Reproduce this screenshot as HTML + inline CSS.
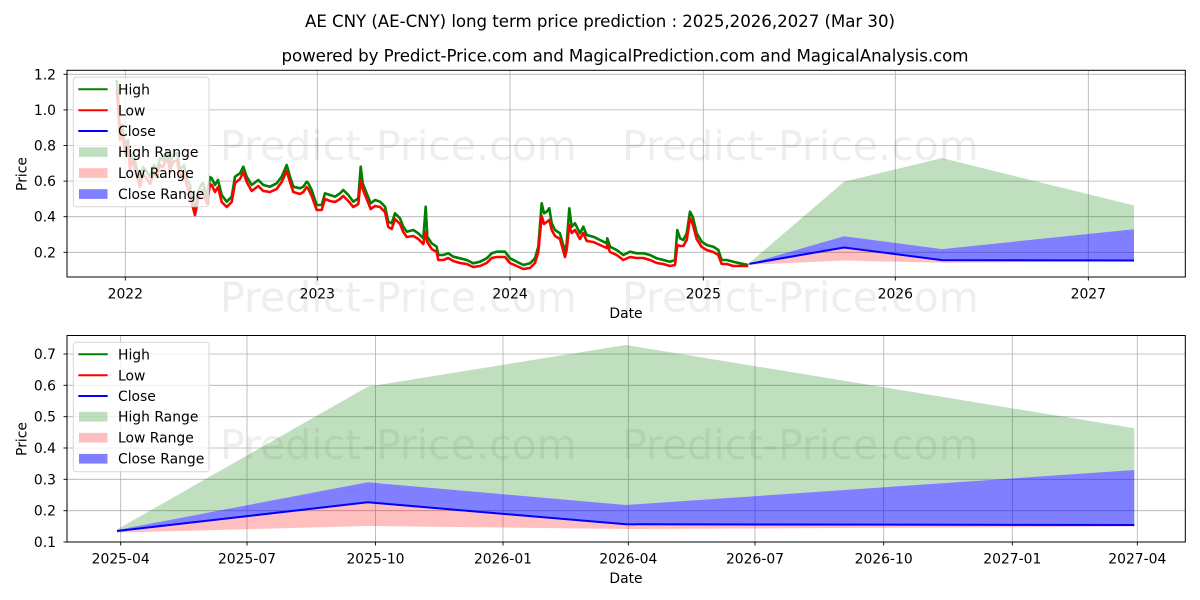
<!DOCTYPE html>
<html><head><meta charset="utf-8"><style>
html,body{margin:0;padding:0;background:#fff;}
svg{display:block;font-family:"DejaVu Sans","Liberation Sans",sans-serif;}
</style></head><body>
<svg width="1200" height="600" viewBox="0 0 1200 600" xmlns="http://www.w3.org/2000/svg">
<rect width="1200" height="600" fill="#fff"/>
<!-- Titles -->
<text x="600" y="27" font-size="16.67" text-anchor="middle" fill="#000" textLength="590" lengthAdjust="spacing">AE CNY (AE-CNY) long term price prediction : 2025,2026,2027 (Mar 30)</text>
<text x="625" y="61.5" font-size="16.67" text-anchor="middle" fill="#000" textLength="687" lengthAdjust="spacing">powered by Predict-Price.com and MagicalPrediction.com and MagicalAnalysis.com</text>

<!-- ============ TOP AXES ============ -->
<g stroke="#b0b0b0" stroke-width="0.8">
<line x1="125.3" y1="70" x2="125.3" y2="277"/>
<line x1="317.3" y1="70" x2="317.3" y2="277"/>
<line x1="510" y1="70" x2="510" y2="277"/>
<line x1="703.3" y1="70" x2="703.3" y2="277"/>
<line x1="895.3" y1="70" x2="895.3" y2="277"/>
<line x1="1088.3" y1="70" x2="1088.3" y2="277"/>
<line x1="67" y1="252.3" x2="1185" y2="252.3"/>
<line x1="67" y1="216.7" x2="1185" y2="216.7"/>
<line x1="67" y1="181.1" x2="1185" y2="181.1"/>
<line x1="67" y1="145.5" x2="1185" y2="145.5"/>
<line x1="67" y1="109.9" x2="1185" y2="109.9"/>
<line x1="67" y1="74.3" x2="1185" y2="74.3"/>
</g>

<!-- prediction fills top -->
<polygon fill="#008000" fill-opacity="0.25" points="749.3,263 844,181.8 942,158.1 1134,205.5 1134,229.2 942,249.1 844,236.3 749.3,263.5"/>
<polygon fill="#0000ff" fill-opacity="0.5" points="749.3,263.5 844,236.3 942,249.1 1134,229.2 1134,260.5 942,260.1 844,247.5 749.3,264"/>
<polygon fill="#ff0000" fill-opacity="0.25" points="749.3,264 844,247.5 942,260.1 1134,260.5 1134,261.2 942,262.8 844,260.5 749.3,264.8"/>

<!-- historical high -->
<polyline fill="none" stroke="#008000" stroke-width="2.6" stroke-linejoin="round" points="116.7,80 118,95 120,133 122,125 125,147 128,140 130,163 133,153 137,170 140,180 143,167 147,172 150,177 154,165 157,170 160,158 163,160 167,150 170,163 173,155 177,153 180,170 184,165 187,180 190,185 192,197 195,208 198,193 201,185 203,183 205,190 207,197 210,177 211.7,178.3 215,185 218,180 221.7,195 226.7,201.7 231.7,196.7 235,176.7 240,173.3 243.3,166.7 246.7,176.7 251.7,185 258.3,180 263.3,185 270,186.7 276.7,183.3 281.7,176.7 286.7,165 290,176.7 293.3,186.7 300,188.3 303.3,186.7 306.7,181.7 308.3,183.3 311.7,190 316.7,205 321.7,205 325,193.3 330,195 335,196.7 340,193.3 343.3,190 348.3,195 353.3,201.7 358.3,198.3 360.7,166.7 362.7,183.3 366.7,193.3 370.7,203.3 375,200 380,201.7 385,206.7 388.3,221.7 391.7,223.3 395,213.3 400,218.3 403.3,226.7 406.7,231.7 413.3,230 418.3,233.3 423.3,238.3 425.7,206.7 427.3,236.7 431.7,243.3 436.7,246.7 438.3,255 443.3,255 448.3,253.3 453.3,256.7 460,258.3 466.7,260 473.3,263.3 480,261.7 486.7,258.3 491.7,253.3 496.7,251.7 500,251.7 505,251.7 510,258.3 516.7,261.7 523.3,265 530,263.3 535,258.3 538.3,246.7 541.7,203.3 544,213.3 546.7,211.7 549.3,208.3 551.7,223.3 555,230 560,233.3 565,251.7 566.7,243.3 569.3,208.3 571.7,226.7 575,223.3 580,233.3 583.3,226.7 586.7,235 593.3,236.7 600,240 606.7,243.3 607.3,238.3 610,246.7 616.7,250 623.3,255 630,251.7 636.7,253.3 643.3,253.3 650,255 656.7,258.3 663.3,260 670,261.7 675,260 677.3,230 680,238.3 683.3,240 686.7,233.3 690,211.7 692.7,216.7 696.7,233.3 701.7,241.7 706.7,245 713.3,246.7 718.3,250 721.7,260 726.7,260 733.3,261.7 740,263.3 748.3,265"/>
<!-- historical low -->
<polyline fill="none" stroke="#ff0000" stroke-width="2.6" stroke-linejoin="round" points="116.7,90 118,105 120,140 122,132 125,153 128,147 130,170 133,160 137,177 140,187 143,174 147,179 150,184 154,172 157,177 160,165 163,167 167,157 170,170 173,162 177,160 180,177 184,172 187,187 190,192 192,204 195,215 198,200 201,192 203,190 205,197 207,204 210,184 211.7,185 215,192 218,187 221.7,202 226.7,207 231.7,202 235,183 240,179 243.3,172 246.7,182 251.7,191 258.3,186 263.3,191 270,192 276.7,189 281.7,182 286.7,171 290,182 293.3,192 300,194 303.3,192 306.7,187 308.3,189 311.7,196 316.7,210 321.7,210 325,199 330,201 335,202 340,199 343.3,196 348.3,201 353.3,207 358.3,204 360.7,180 362.7,189 366.7,199 370.7,209 375,206 380,207 385,212 388.3,227 391.7,229 395,219 400,224 403.3,232 406.7,237 413.3,236 418.3,239 423.3,244 425.7,232 427.3,242 431.7,249 436.7,252 438.3,260 443.3,260 448.3,258 453.3,261 460,263 466.7,264 473.3,267 480,266 486.7,263 491.7,258 496.7,257 500,257 505,257 510,263 516.7,266 523.3,269 530,268 535,263 538.3,252 541.7,216 544,224 546.7,222 549.3,220 551.7,230 555,236 560,239 565,257 566.7,250 569.3,225 571.7,233 575,230 580,239 583.3,233 586.7,241 593.3,242 600,245 606.7,248 607.3,245 610,252 616.7,255 623.3,260 630,257 636.7,258 643.3,258 650,260 656.7,263 663.3,264 670,266 675,265 677.3,245 680,246 683.3,246 686.7,240 690,218 692.7,224 696.7,239 701.7,247 706.7,250 713.3,252 718.3,255 721.7,264 726.7,264 733.3,266 740,266 748.3,266"/>
<!-- close prediction top -->
<polyline fill="none" stroke="#0000ff" stroke-width="2" points="749.3,263.9 844,247.5 942,260.1 1134,260.5"/>

<!-- watermarks -->
<g font-size="41" fill="#000" fill-opacity="0.065">
<text x="220" y="160">Predict-Price.com</text>
<text x="622" y="160">Predict-Price.com</text>
<text x="220" y="311.5">Predict-Price.com</text>
<text x="622" y="311.5">Predict-Price.com</text>
<text x="220" y="459">Predict-Price.com</text>
<text x="622" y="459">Predict-Price.com</text>
</g>

<!-- top spines & ticks -->
<rect x="67" y="70.3" width="1118.3" height="206.7" fill="none" stroke="#000" stroke-width="1"/>
<g stroke="#000" stroke-width="0.9">
<line x1="63.5" y1="252.3" x2="67" y2="252.3"/>
<line x1="63.5" y1="216.7" x2="67" y2="216.7"/>
<line x1="63.5" y1="181.1" x2="67" y2="181.1"/>
<line x1="63.5" y1="145.5" x2="67" y2="145.5"/>
<line x1="63.5" y1="109.9" x2="67" y2="109.9"/>
<line x1="63.5" y1="74.3" x2="67" y2="74.3"/>
<line x1="125.3" y1="277" x2="125.3" y2="280.5"/>
<line x1="317.3" y1="277" x2="317.3" y2="280.5"/>
<line x1="510" y1="277" x2="510" y2="280.5"/>
<line x1="703.3" y1="277" x2="703.3" y2="280.5"/>
<line x1="895.3" y1="277" x2="895.3" y2="280.5"/>
<line x1="1088.3" y1="277" x2="1088.3" y2="280.5"/>
</g>
<g font-size="13.9" fill="#000" text-anchor="end">
<text x="56" y="257.3">0.2</text>
<text x="56" y="221.7">0.4</text>
<text x="56" y="186.1">0.6</text>
<text x="56" y="150.5">0.8</text>
<text x="56" y="114.9">1.0</text>
<text x="56" y="79.3">1.2</text>
</g>
<g font-size="13.9" fill="#000" text-anchor="middle">
<text x="125.3" y="298.3">2022</text>
<text x="317.3" y="298.3">2023</text>
<text x="510" y="298.3">2024</text>
<text x="703.3" y="298.3">2025</text>
<text x="895.3" y="298.3">2026</text>
<text x="1088.3" y="298.3">2027</text>
<text x="626" y="318">Date</text>
</g>
<text font-size="13.9" text-anchor="middle" transform="translate(26.5,174) rotate(-90)">Price</text>

<!-- top legend -->
<rect x="73.3" y="77.3" width="135.7" height="129.4" rx="3" fill="#fff" fill-opacity="0.8" stroke="#cccccc" stroke-opacity="0.8" stroke-width="1"/>
<line x1="78.3" y1="89.3" x2="107.7" y2="89.3" stroke="#008000" stroke-width="2"/>
<line x1="78.3" y1="110.3" x2="107.7" y2="110.3" stroke="#ff0000" stroke-width="2"/>
<line x1="78.3" y1="131" x2="107.7" y2="131" stroke="#0000ff" stroke-width="2"/>
<rect x="79" y="147.2" width="28.5" height="9.7" fill="#008000" fill-opacity="0.25"/>
<rect x="79" y="168.2" width="28.5" height="9.7" fill="#ff0000" fill-opacity="0.25"/>
<rect x="79" y="189.2" width="28.5" height="9.7" fill="#0000ff" fill-opacity="0.5"/>
<g font-size="13.9" fill="#000">
<text x="118" y="94.3">High</text>
<text x="118" y="115.3">Low</text>
<text x="118" y="136">Close</text>
<text x="118" y="157">High Range</text>
<text x="118" y="178">Low Range</text>
<text x="118" y="199">Close Range</text>
</g>

<!-- ============ BOTTOM AXES ============ -->
<g stroke="#b0b0b0" stroke-width="0.8">
<line x1="120.7" y1="335.5" x2="120.7" y2="542"/>
<line x1="247" y1="335.5" x2="247" y2="542"/>
<line x1="375.5" y1="335.5" x2="375.5" y2="542"/>
<line x1="503" y1="335.5" x2="503" y2="542"/>
<line x1="628.3" y1="335.5" x2="628.3" y2="542"/>
<line x1="755" y1="335.5" x2="755" y2="542"/>
<line x1="883.7" y1="335.5" x2="883.7" y2="542"/>
<line x1="1012.3" y1="335.5" x2="1012.3" y2="542"/>
<line x1="1137.3" y1="335.5" x2="1137.3" y2="542"/>
<line x1="67" y1="510.7" x2="1185" y2="510.7"/>
<line x1="67" y1="479.3" x2="1185" y2="479.3"/>
<line x1="67" y1="448" x2="1185" y2="448"/>
<line x1="67" y1="416.7" x2="1185" y2="416.7"/>
<line x1="67" y1="385.3" x2="1185" y2="385.3"/>
<line x1="67" y1="354" x2="1185" y2="354"/>
</g>
<polygon fill="#008000" fill-opacity="0.25" points="117,529.5 367.7,386.7 626,345 1134.3,428.3 1134.3,470 626,505 367.7,482.3 117,530"/>
<polygon fill="#0000ff" fill-opacity="0.5" points="117,530 367.7,482.3 626,505 1134.3,470 1134.3,525 626,524.3 367.7,502.3 117,531"/>
<polygon fill="#ff0000" fill-opacity="0.25" points="117,531 367.7,502.3 626,524.3 1134.3,525 1134.3,526.5 626,529 367.7,526 117,532.6"/>
<polyline fill="none" stroke="#0000ff" stroke-width="2" points="117,531 367.7,502.3 626,524.3 1134.3,525"/>

<rect x="67" y="335.5" width="1118.3" height="206.5" fill="none" stroke="#000" stroke-width="1"/>
<g stroke="#000" stroke-width="0.9">
<line x1="63.5" y1="542" x2="67" y2="542"/>
<line x1="63.5" y1="510.7" x2="67" y2="510.7"/>
<line x1="63.5" y1="479.3" x2="67" y2="479.3"/>
<line x1="63.5" y1="448" x2="67" y2="448"/>
<line x1="63.5" y1="416.7" x2="67" y2="416.7"/>
<line x1="63.5" y1="385.3" x2="67" y2="385.3"/>
<line x1="63.5" y1="354" x2="67" y2="354"/>
<line x1="120.7" y1="542" x2="120.7" y2="545.5"/>
<line x1="247" y1="542" x2="247" y2="545.5"/>
<line x1="375.5" y1="542" x2="375.5" y2="545.5"/>
<line x1="503" y1="542" x2="503" y2="545.5"/>
<line x1="628.3" y1="542" x2="628.3" y2="545.5"/>
<line x1="755" y1="542" x2="755" y2="545.5"/>
<line x1="883.7" y1="542" x2="883.7" y2="545.5"/>
<line x1="1012.3" y1="542" x2="1012.3" y2="545.5"/>
<line x1="1137.3" y1="542" x2="1137.3" y2="545.5"/>
</g>
<g font-size="13.9" fill="#000" text-anchor="end">
<text x="56" y="547">0.1</text>
<text x="56" y="515.7">0.2</text>
<text x="56" y="484.3">0.3</text>
<text x="56" y="453">0.4</text>
<text x="56" y="421.7">0.5</text>
<text x="56" y="390.3">0.6</text>
<text x="56" y="359">0.7</text>
</g>
<g font-size="13.9" fill="#000" text-anchor="middle">
<text x="120.7" y="563.3">2025-04</text>
<text x="247" y="563.3">2025-07</text>
<text x="375.5" y="563.3">2025-10</text>
<text x="503" y="563.3">2026-01</text>
<text x="628.3" y="563.3">2026-04</text>
<text x="755" y="563.3">2026-07</text>
<text x="883.7" y="563.3">2026-10</text>
<text x="1012.3" y="563.3">2027-01</text>
<text x="1137.3" y="563.3">2027-04</text>
<text x="626" y="583">Date</text>
</g>
<text font-size="13.9" text-anchor="middle" transform="translate(26.5,439) rotate(-90)">Price</text>

<!-- bottom legend -->
<rect x="73.3" y="342.3" width="135.7" height="129.4" rx="3" fill="#fff" fill-opacity="0.8" stroke="#cccccc" stroke-opacity="0.8" stroke-width="1"/>
<line x1="78.3" y1="354.3" x2="107.7" y2="354.3" stroke="#008000" stroke-width="2"/>
<line x1="78.3" y1="375.3" x2="107.7" y2="375.3" stroke="#ff0000" stroke-width="2"/>
<line x1="78.3" y1="396" x2="107.7" y2="396" stroke="#0000ff" stroke-width="2"/>
<rect x="79" y="411.9" width="28.5" height="9.7" fill="#008000" fill-opacity="0.25"/>
<rect x="79" y="432.9" width="28.5" height="9.7" fill="#ff0000" fill-opacity="0.25"/>
<rect x="79" y="453.9" width="28.5" height="9.7" fill="#0000ff" fill-opacity="0.5"/>
<g font-size="13.9" fill="#000">
<text x="118" y="359.3">High</text>
<text x="118" y="380.3">Low</text>
<text x="118" y="401">Close</text>
<text x="118" y="421.7">High Range</text>
<text x="118" y="442.7">Low Range</text>
<text x="118" y="463.7">Close Range</text>
</g>
</svg>
</body></html>
